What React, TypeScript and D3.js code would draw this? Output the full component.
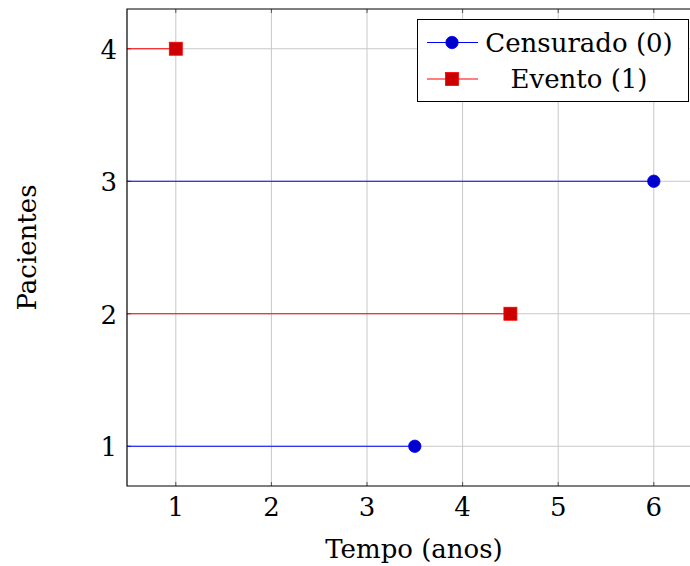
import React from "react"
import * as d3 from "d3"

// patients, follow-up time (years) and status (0 = censored, 1 = event)
const patients = [1, 2, 3, 4]
const times = [3.5, 4.5, 6, 1]
const status = [0, 1, 0, 1]
const xTicks = [1, 2, 3, 4, 5, 6]
const yTicks = [1, 2, 3, 4]
const legendLabels = ["Censurado (0)", "Evento (1)"]

const W = 690, H = 566
const left = 127, top = 9, bottom = 486, right = 690
const font = "DejaVu Serif"
const fs = 26

const blueLine = "#0000ff", blueFill = "#0000cc"
const redLine = "#ff0000", redFill = "#cc0000"

export default function App() {
    document.body.style.margin = "0"

    const x = d3.scaleLinear().domain([0.5, 6.5]).range([128, 701.6])
    const y = d3.scaleLinear().domain([0.7, 4.3]).range([bottom, top])
    const line = d3.line<[number, number]>().x(d => x(d[0])).y(d => y(d[1]))

    const marker = (s: number, cx: number, cy: number, key?: any) =>
        s === 0
            ? <circle key={key} cx={cx} cy={cy} r={6.2} fill={blueFill} stroke={blueLine} strokeWidth={0.8} />
            : <rect key={key} x={cx - 6.5} y={cy - 6.5} width={13} height={13} fill={redFill} stroke={redLine} strokeWidth={0.8} />

    return (
        <svg width={W} height={H} style={{display: "block"}} fontFamily={font}>
            <defs>
                <clipPath id="plot">
                    <rect x={left} y={top} width={right - left} height={bottom - top} />
                </clipPath>
            </defs>
            <rect width={W} height={H} fill="white" />
            <g clipPath="url(#plot)">
                {xTicks.map(t => (
                    <line key={"gx" + t} x1={x(t)} x2={x(t)} y1={top} y2={bottom} stroke="#c8c8c8" strokeWidth={1} />
                ))}
                {yTicks.map(t => (
                    <line key={"gy" + t} x1={left} x2={right} y1={y(t)} y2={y(t)} stroke="#c8c8c8" strokeWidth={1} />
                ))}
                {xTicks.map(t => (
                    <g key={"tk" + t} stroke="#555" strokeWidth={1}>
                        <line x1={x(t)} x2={x(t)} y1={bottom} y2={bottom - 4} />
                        <line x1={x(t)} x2={x(t)} y1={top} y2={top + 4} />
                    </g>
                ))}
                {yTicks.map(t => (
                    <line key={"tky" + t} x1={left} x2={left + 4} y1={y(t)} y2={y(t)} stroke="#555" />
                ))}
                {patients.map((p, i) => (
                    <path key={"l" + p} d={line([[0, p], [times[i], p]]) || ""}
                        stroke={status[i] === 0 ? blueLine : redLine} strokeWidth={1.2} fill="none" />
                ))}
                {patients.map((p, i) => marker(status[i], x(times[i]), y(p), "m" + p))}
            </g>
            <path d={`M${right},${top}H${left}V${bottom}H${right}`} fill="none" stroke="black" strokeWidth={1.2} />

            {xTicks.map(t => (
                <text key={"xl" + t} x={x(t)} y={516} textAnchor="middle" fontSize={fs}>{t}</text>
            ))}
            {yTicks.map(t => (
                <text key={"yl" + t} x={117} y={y(t) + 10} textAnchor="end" fontSize={fs}>{t}</text>
            ))}
            <text x={414} y={558} textAnchor="middle" fontSize={fs}>Tempo (anos)</text>
            <text transform={`translate(36,${247.5}) rotate(-90)`} textAnchor="middle" fontSize={fs}>Pacientes</text>

            <g>
                <rect x={417.5} y={19.5} width={271} height={82} fill="white" stroke="black" strokeWidth={1} />
                {legendLabels.map((lab, i) => {
                    const cy = 42.5 + i * 36.5
                    const col = i === 0 ? blueLine : redLine
                    return (
                        <g key={lab}>
                            <line x1={427} x2={478} y1={cy} y2={cy} stroke={col} strokeWidth={1.2} />
                            {marker(i, 452, cy)}
                            <text x={579} y={cy + 9} textAnchor="middle" fontSize={fs}>{lab}</text>
                        </g>
                    )
                })}
            </g>
        </svg>
    )
}
